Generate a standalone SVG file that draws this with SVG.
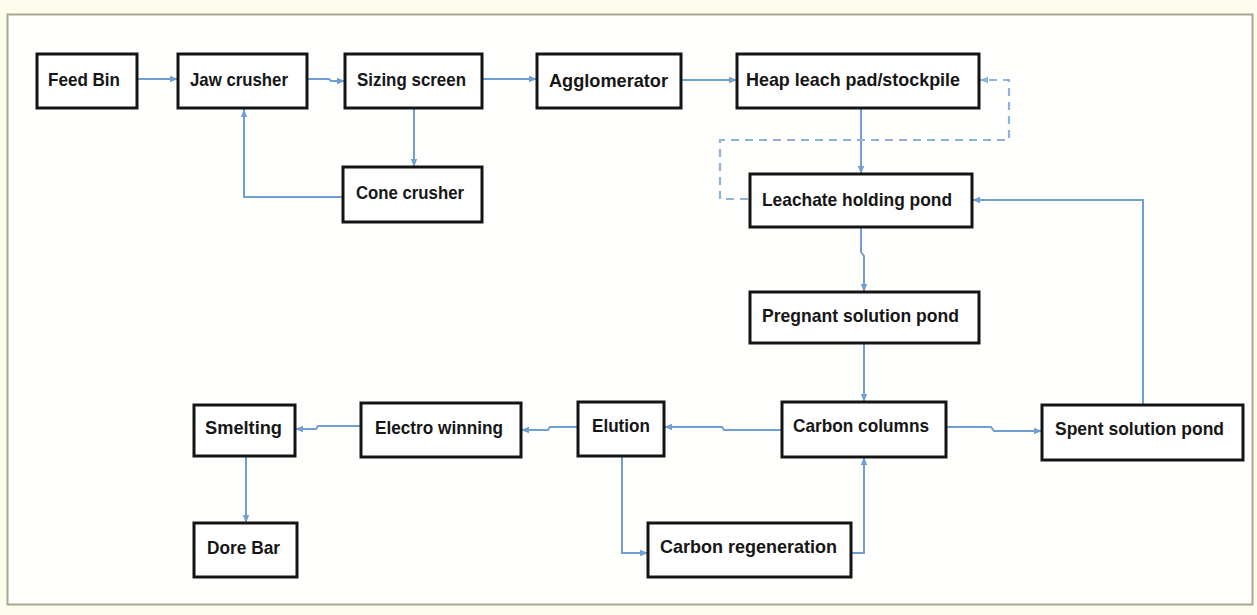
<svg xmlns="http://www.w3.org/2000/svg" width="1257" height="615" viewBox="0 0 1257 615">
<style>
.box{fill:#ffffff;stroke:#141414;stroke-width:3}
.lbl{font-family:"Liberation Sans",Arial,sans-serif;font-weight:bold;font-size:19px;fill:#161616}
.c{fill:none;stroke:#6f9fd3;stroke-width:2}
.d{fill:none;stroke:#8fb3dc;stroke-width:2.2;stroke-dasharray:8 6}
</style>
<defs>
<marker id="ah" viewBox="0 0 10 10" refX="10" refY="5" markerWidth="8" markerHeight="8" markerUnits="userSpaceOnUse" orient="auto">
<path d="M0,1 L10,5 L0,9 z" fill="#6f9fd3"/>
</marker>
<marker id="ahd" viewBox="0 0 10 10" refX="10" refY="5" markerWidth="8" markerHeight="8" markerUnits="userSpaceOnUse" orient="auto">
<path d="M0,1 L10,5 L0,9 z" fill="#8fb3dc"/>
</marker>
</defs>
<rect x="0" y="0" width="1257" height="615" fill="#fdfdee"/>
<rect x="7.5" y="14.5" width="1245" height="590" fill="#fffffd" stroke="#aaa98f" stroke-width="2"/>

<g id="connectors">
<path class="c" d="M137,79 H178" marker-end="url(#ah)"/>
<path class="c" d="M307,79 H329 L331,81 H345" marker-end="url(#ah)"/>
<path class="c" d="M482,79 H537" marker-end="url(#ah)"/>
<path class="c" d="M681,80 H737" marker-end="url(#ah)"/>
<path class="c" d="M414,108 V167" marker-end="url(#ah)"/>
<path class="c" d="M343,197 H244 V109" marker-end="url(#ah)"/>
<path class="c" d="M861,108 V174" marker-end="url(#ah)"/>
<path class="d" d="M748,199 H720 V140 H1009 V80 H980" marker-end="url(#ahd)"/>
<path class="c" d="M861,227 V252 L864,256 V292" marker-end="url(#ah)"/>
<path class="c" d="M864,343 V402" marker-end="url(#ah)"/>
<path class="c" d="M782,430 H724 L722,427 H664" marker-end="url(#ah)"/>
<path class="c" d="M946,427 H991 L994,431 H1042" marker-end="url(#ah)"/>
<path class="c" d="M1143,405 V200 H972" marker-end="url(#ah)"/>
<path class="c" d="M622,456 V553 H648" marker-end="url(#ah)"/>
<path class="c" d="M851,553 H864 V457" marker-end="url(#ah)"/>
<path class="c" d="M578,427 H550 L548,430 H521" marker-end="url(#ah)"/>
<path class="c" d="M361,426 H318 L316,429 H295" marker-end="url(#ah)"/>
<path class="c" d="M246,456 V523" marker-end="url(#ah)"/>
</g>

<g id="feed-bin"><rect class="box" x="37" y="54" width="100" height="54"/><text class="lbl" x="48" y="86" textLength="72" lengthAdjust="spacingAndGlyphs">Feed Bin</text></g>
<g id="jaw-crusher"><rect class="box" x="178" y="54" width="129" height="54"/><text class="lbl" x="190" y="86" textLength="98" lengthAdjust="spacingAndGlyphs">Jaw crusher</text></g>
<g id="sizing-screen"><rect class="box" x="345" y="54" width="137" height="54"/><text class="lbl" x="357" y="86" textLength="109" lengthAdjust="spacingAndGlyphs">Sizing screen</text></g>
<g id="agglomerator"><rect class="box" x="537" y="54" width="144" height="54"/><text class="lbl" x="549" y="87" textLength="119" lengthAdjust="spacingAndGlyphs">Agglomerator</text></g>
<g id="heap-leach"><rect class="box" x="737" y="54" width="242" height="54"/><text class="lbl" x="746" y="86" textLength="214" lengthAdjust="spacingAndGlyphs">Heap leach pad/stockpile</text></g>
<g id="cone-crusher"><rect class="box" x="343" y="167" width="139" height="55"/><text class="lbl" x="356" y="199" textLength="108" lengthAdjust="spacingAndGlyphs">Cone crusher</text></g>
<g id="leachate-pond"><rect class="box" x="750" y="174" width="222" height="53"/><text class="lbl" x="762" y="206" textLength="190" lengthAdjust="spacingAndGlyphs">Leachate holding pond</text></g>
<g id="pregnant-pond"><rect class="box" x="750" y="292" width="229" height="51"/><text class="lbl" x="762" y="322" textLength="197" lengthAdjust="spacingAndGlyphs">Pregnant solution pond</text></g>
<g id="carbon-columns"><rect class="box" x="782" y="402" width="164" height="55"/><text class="lbl" x="793" y="432" textLength="136" lengthAdjust="spacingAndGlyphs">Carbon columns</text></g>
<g id="elution"><rect class="box" x="578" y="402" width="86" height="54"/><text class="lbl" x="592" y="432" textLength="58" lengthAdjust="spacingAndGlyphs">Elution</text></g>
<g id="spent-pond"><rect class="box" x="1042" y="405" width="201" height="55"/><text class="lbl" x="1055" y="435" textLength="169" lengthAdjust="spacingAndGlyphs">Spent solution pond</text></g>
<g id="carbon-regeneration"><rect class="box" x="648" y="523" width="203" height="54"/><text class="lbl" x="660" y="553" textLength="177" lengthAdjust="spacingAndGlyphs">Carbon regeneration</text></g>
<g id="electro-winning"><rect class="box" x="361" y="403" width="160" height="54"/><text class="lbl" x="375" y="434" textLength="128" lengthAdjust="spacingAndGlyphs">Electro winning</text></g>
<g id="smelting"><rect class="box" x="194" y="405" width="101" height="51"/><text class="lbl" x="205" y="434" textLength="77" lengthAdjust="spacingAndGlyphs">Smelting</text></g>
<g id="dore-bar"><rect class="box" x="194" y="523" width="103" height="54"/><text class="lbl" x="207" y="554" textLength="73" lengthAdjust="spacingAndGlyphs">Dore Bar</text></g>
</svg>
